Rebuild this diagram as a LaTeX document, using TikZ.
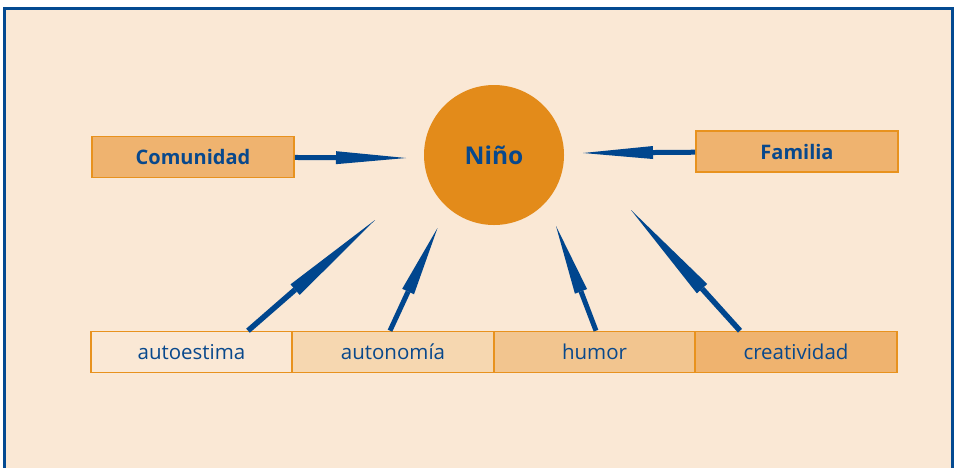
\documentclass[tikz,border=0pt]{standalone}
\usepackage{fontspec}
\setmainfont{Open Sans}
\usetikzlibrary{arrows.meta}
\definecolor{bgc}{RGB}{250,232,213}
\definecolor{frameblue}{RGB}{4,74,145}
\definecolor{txtblue}{RGB}{8,72,140}
\definecolor{arrblue}{RGB}{0,70,142}
\definecolor{oline}{RGB}{232,146,30}
\definecolor{ofill}{RGB}{239,179,111}
\definecolor{ofillb}{RGB}{242,197,143}
\definecolor{ofillc}{RGB}{246,215,176}
\definecolor{circ}{RGB}{227,139,26}
\tikzset{
  topbox/.style={draw=oline, line width=1.6pt, fill=ofill, minimum width=202pt, minimum height=41pt, inner sep=0pt,
    text=txtblue, font=\fontsize{20}{23}\selectfont\bfseries},
  botbox/.style={draw=oline, line width=1.6pt, minimum width=201.5pt, minimum height=41pt, inner sep=0pt,
    text=txtblue, font=\fontsize{20.5}{24}\selectfont},
  arrshort/.style={draw=arrblue, line width=5pt, -{Triangle[length=70pt, width=13pt, line width=0pt]}},
  arrlong/.style={draw=arrblue, line width=5.5pt, -{Triangle[length=106pt, width=14pt, line width=0pt]}},
}
\begin{document}
\begin{tikzpicture}[x=1pt, y=-1pt]
\useasboundingbox (0,0) rectangle (955,467);
\begin{scope}
\clip (0,0) rectangle (955,467);
\draw[frameblue, line width=3pt, fill=bgc] (4.5,8.5) rectangle (952.5,490);
\end{scope}
% nodes
\node[topbox] (com) at (193,157) {Comunidad};
\node[topbox] (fam) at (797,151.5) {Familia};
\node[circle, fill=circ, minimum size=140pt, inner sep=0pt, text=txtblue,
      font=\fontsize{24.5}{28}\selectfont\bfseries] (nino) at (494,155) {Niño};
\node[botbox, fill=bgc]    (b1) at (191.5,352) {autoestima};
\node[botbox, fill=ofillc] (b2) at (393,352) {autonomía};
\node[botbox, fill=ofillb] (b3) at (594.5,352) {humor};
\node[botbox, fill=ofill]  (b4) at (796,352) {creatividad};
% arrow tips
\coordinate (t1) at (406,158);
\coordinate (t2) at (583,153);
\coordinate (t3) at (375,220);
\coordinate (t4) at (437.5,228);
\coordinate (t5) at (556,226);
\coordinate (t6) at (631,210);
% arrows
\draw[arrshort] (com) -- (t1);
\draw[arrshort] (fam) -- (t2);
\draw[arrlong] ([xshift=56.5pt]b1.north) -- (t3);
\draw[arrshort] ([xshift=-3pt]b2.north) -- (t4);
\draw[arrshort] ([xshift=1.5pt]b3.north) -- (t5);
\draw[arrlong] ([xshift=-56pt]b4.north) -- (t6);
\end{tikzpicture}
\end{document}
